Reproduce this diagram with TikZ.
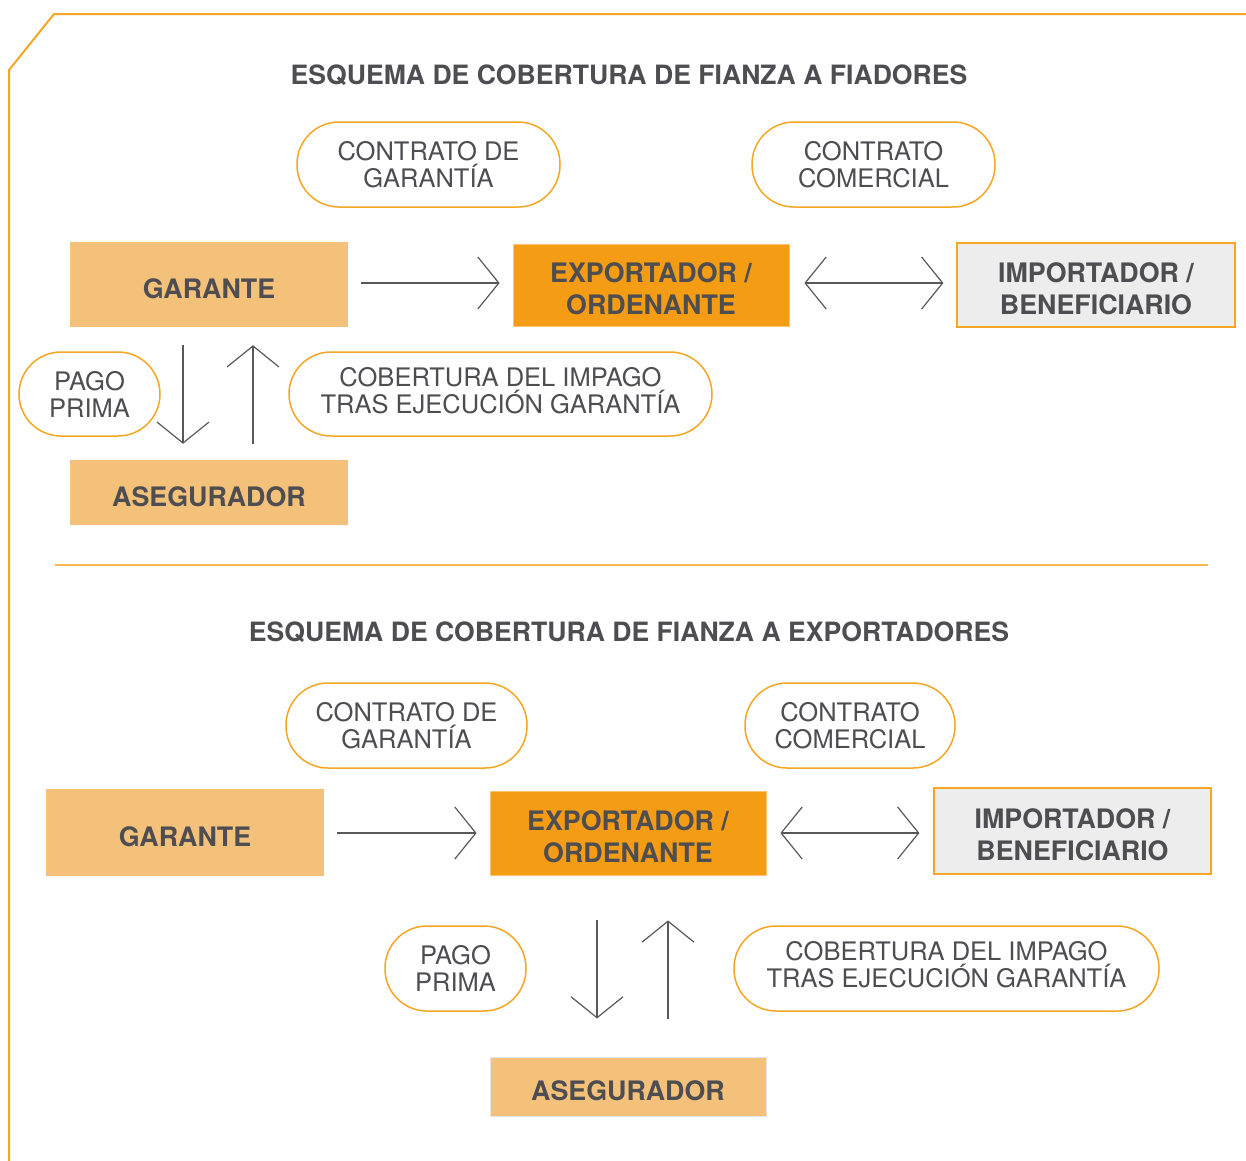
\documentclass[tikz,border=0pt]{standalone}
\usepackage{fontspec}
\setmainfont{TeX Gyre Heros}
\usetikzlibrary{arrows.meta}
\definecolor{txt}{HTML}{4D4D52}
\definecolor{lor}{HTML}{F4C17B}
\definecolor{mor}{HTML}{F39C14}
\definecolor{gbox}{HTML}{EDEDED}
\definecolor{bor}{HTML}{F5A623}
\definecolor{arr}{HTML}{58585A}
\newcommand{\dn}{\rule{0pt}{27.6pt}}
\newcommand{\up}{\rule[-8pt]{0pt}{8pt}}
\tikzset{
  boxtext/.style={font=\fontsize{26.8}{31.5}\selectfont\bfseries, text=txt, align=center, inner sep=0pt},
  pill/.style={draw=bor, line width=1.5pt, rounded corners=42pt, font=\fontsize{25.5}{27}\selectfont, text=txt, align=center, inner sep=0pt, minimum height=85pt},
  ttl/.style={font=\fontsize{26.6}{30}\selectfont\bfseries, text=txt, inner sep=0pt},
  conn/.style={draw=arr, line width=1.2pt, -{Straight Barb[length=21pt, width=52pt, line width=1.2pt]}},
  dconn/.style={draw=arr, line width=1.2pt, {Straight Barb[length=21pt, width=52pt, line width=1.2pt]}-{Straight Barb[length=21pt, width=52pt, line width=1.2pt]}},
}
\begin{document}
\begin{tikzpicture}[x=1pt, y=-1pt]
\useasboundingbox (0,0) rectangle (1246,1160);
\draw[bor, line width=2pt] (9,1162) -- (9,70) -- (54,14) -- (1248,14);
\draw[bor!80, line width=2pt] (55,565) -- (1208,565);

% ---------- top ----------
\node[ttl] (t1) at (629,75) {ESQUEMA DE COBERTURA DE FIANZA A FIADORES};
\node[pill, minimum width=263pt] (cg1) at (428.5,164.5) {CONTRATO DE\\GARANTÍA};
\node[pill, minimum width=243pt] (cc1) at (873.5,164.5) {CONTRATO\\COMERCIAL};
\node[boxtext, fill=lor, minimum width=278pt, minimum height=85pt] (g1) at (209,284.5) {\dn GARANTE};
\node[boxtext, fill=mor, draw=mor!60, line width=0.8pt, minimum width=276pt, minimum height=82pt] (e1) at (651,285) {\dn EXPORTADOR /\\ORDENANTE};
\node[boxtext, fill=gbox, draw=bor, line width=1.2pt, minimum width=278pt, minimum height=84pt] (i1) at (1096,285) {\dn IMPORTADOR /\\BENEFICIARIO};
\node[pill, minimum width=141pt, minimum height=84pt] (pp1) at (89.5,394) {PAGO\\PRIMA};
\node[pill, minimum width=423pt, minimum height=84pt] (cob1) at (500.5,394) {COBERTURA DEL IMPAGO\\TRAS EJECUCIÓN GARANTÍA\up};
\node[boxtext, fill=lor, minimum width=278pt, minimum height=65pt] (a1) at (209,492.5) {\dn ASEGURADOR};

\draw[conn, shorten <=13pt, shorten >=13pt] ([yshift=1.5pt]g1.east) -- ([yshift=1.5pt]g1.east -| e1.west);
\draw[dconn, shorten <=15pt, shorten >=13pt] ([yshift=2pt]e1.east) -- ([yshift=2pt]e1.east -| i1.west);
\draw[conn, shorten <=18pt, shorten >=16pt] ([xshift=-26pt]g1.south) -- ([xshift=-26pt]g1.south |- a1.north);
\draw[conn, shorten <=16pt, shorten >=18pt] ([xshift=44pt]g1.south |- a1.north) -- ([xshift=44pt]g1.south);

% ---------- bottom ----------
\node[ttl] (t2) at (629,632) {ESQUEMA DE COBERTURA DE FIANZA A EXPORTADORES};
\node[pill, minimum width=241pt] (cg2) at (406.5,725.5) {CONTRATO DE\\GARANTÍA};
\node[pill, minimum width=210pt] (cc2) at (850,725.5) {CONTRATO\\COMERCIAL};
\node[boxtext, fill=lor, minimum width=278pt, minimum height=87pt] (g2) at (185,832.5) {\dn GARANTE};
\node[boxtext, fill=mor, draw=mor!60, line width=0.8pt, minimum width=276pt, minimum height=84pt] (e2) at (628,833) {\dn EXPORTADOR /\\ORDENANTE};
\node[boxtext, fill=gbox, draw=bor, line width=1.2pt, minimum width=277pt, minimum height=86pt] (i2) at (1072.5,831) {\dn IMPORTADOR /\\BENEFICIARIO};
\node[pill, minimum width=141pt] (pp2) at (455.5,968.5) {PAGO\\PRIMA};
\node[pill, minimum width=425pt] (cob2) at (946.5,968.5) {COBERTURA DEL IMPAGO\\TRAS EJECUCIÓN GARANTÍA\up};
\node[boxtext, fill=lor, draw=gray!20, line width=1pt, minimum width=276pt, minimum height=59pt] (a2) at (628,1086.5) {\dn ASEGURADOR};

\draw[conn, shorten <=13pt, shorten >=13pt] (g2.east |- e2.west) -- (e2.west);
\draw[dconn, shorten <=14pt, shorten >=14pt] (e2.east) -- (e2.east -| i2.west);
\draw[conn, shorten <=45pt, shorten >=38pt] ([xshift=-31pt]e2.south) -- ([xshift=-31pt]e2.south |- a2.north);
\draw[conn, shorten <=38pt, shorten >=45pt] ([xshift=40pt]e2.south |- a2.north) -- ([xshift=40pt]e2.south);
\end{tikzpicture}
\end{document}
